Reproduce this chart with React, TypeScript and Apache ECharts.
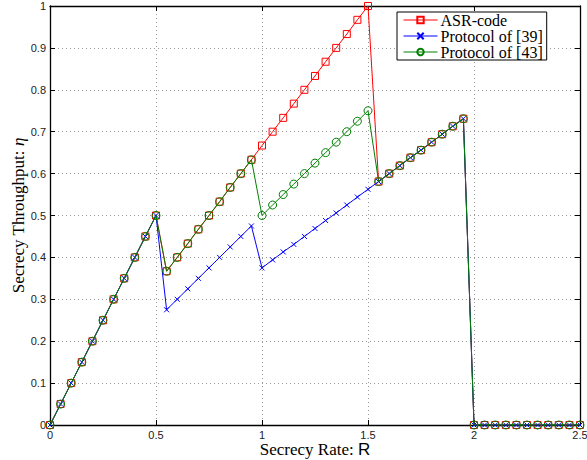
import React, { useEffect, useRef } from "react";
import * as echarts from "echarts";

const rates = [
  0, 0.05, 0.1, 0.15, 0.2, 0.25, 0.3, 0.35, 0.4, 0.45, 0.5,
  0.55, 0.6, 0.65, 0.7, 0.75, 0.8, 0.85, 0.9, 0.95, 1.0,
  1.05, 1.1, 1.15, 1.2, 1.25, 1.3, 1.35, 1.4, 1.45, 1.5,
  1.55, 1.6, 1.65, 1.7, 1.75, 1.8, 1.85, 1.9, 1.95, 2.0,
  2.05, 2.1, 2.15, 2.2, 2.25, 2.3, 2.35, 2.4, 2.45, 2.5,
];

const asrCode = [
  0, 0.05, 0.1, 0.15, 0.2, 0.25, 0.3, 0.35, 0.4, 0.45, 0.5,
  0.367, 0.4, 0.433, 0.467, 0.5, 0.533, 0.567, 0.6, 0.633, 0.667,
  0.7, 0.733, 0.767, 0.8, 0.833, 0.867, 0.9, 0.933, 0.967, 1.0,
  0.581, 0.6, 0.619, 0.638, 0.656, 0.675, 0.694, 0.713, 0.731, 0,
  0, 0, 0, 0, 0, 0, 0, 0, 0, 0,
];

const protocol39 = [
  0, 0.05, 0.1, 0.15, 0.2, 0.25, 0.3, 0.35, 0.4, 0.45, 0.5,
  0.275, 0.3, 0.325, 0.35, 0.375, 0.4, 0.425, 0.45, 0.475, 0.375,
  0.394, 0.413, 0.431, 0.45, 0.469, 0.488, 0.506, 0.525, 0.544, 0.5625,
  0.581, 0.6, 0.619, 0.638, 0.656, 0.675, 0.694, 0.713, 0.731, 0,
  0, 0, 0, 0, 0, 0, 0, 0, 0, 0,
];

const protocol43 = [
  0, 0.05, 0.1, 0.15, 0.2, 0.25, 0.3, 0.35, 0.4, 0.45, 0.5,
  0.367, 0.4, 0.433, 0.467, 0.5, 0.533, 0.567, 0.6, 0.633, 0.5,
  0.525, 0.55, 0.575, 0.6, 0.625, 0.65, 0.675, 0.7, 0.725, 0.75,
  0.581, 0.6, 0.619, 0.638, 0.656, 0.675, 0.694, 0.713, 0.731, 0,
  0, 0, 0, 0, 0, 0, 0, 0, 0, 0,
];

const xTicks = [0, 0.5, 1, 1.5, 2, 2.5];
const yTicks = [0, 0.1, 0.2, 0.3, 0.4, 0.5, 0.6, 0.7, 0.8, 0.9, 1];

const seriesNames = ["ASR-code", "Protocol of [39]", "Protocol of [43]"];
const seriesColors = ["#ff0000", "#0000ff", "#008000"];

const pairs = (ys: number[]) => rates.map((x, i) => [x, ys[i]]);

const fmt = (v: number) => String(Math.round(v * 10) / 10);

export default function App() {
  const ref = useRef<HTMLDivElement>(null);
  useEffect(() => {
    if (!ref.current) return;
    const chart = echarts.init(ref.current, undefined, { renderer: "svg" });
    const serif = "'Liberation Serif', 'Times New Roman', serif";
    const sans = "'Liberation Sans', Arial, Helvetica, sans-serif";
    const axisLine = { show: true, onZero: false, lineStyle: { color: "#000", width: 1.3 } };
    const axisTick = { show: true, inside: true, length: 5, lineStyle: { color: "#000", width: 1 } };
    const splitLine = { show: true, lineStyle: { color: "#9a9a9a", width: 1, type: [1, 3] as any } };
    const mkSeries = (idx: number, data: number[], symbol: string, size: number) => ({
      name: seriesNames[idx],
      type: "line",
      data: pairs(data),
      symbol,
      symbolSize: size,
      showAllSymbol: true,
      lineStyle: { color: seriesColors[idx], width: 1 },
      itemStyle: { color: "transparent", borderColor: seriesColors[idx], borderWidth: 1 },
      emphasis: { disabled: true },
      z: 2 + idx,
    });
    chart.setOption({
      animation: false,
      backgroundColor: "#fff",
      grid: { left: 50, right: 7, top: 6, bottom: 35, containLabel: false, outerBoundsMode: "none" },
      legend: {
        show: true,
        orient: "vertical",
        left: 397,
        top: 12,
        backgroundColor: "#fff",
        borderColor: "#000",
        borderWidth: 1,
        borderRadius: 0,
        padding: [0, 4, 0, 6],
        itemGap: 0,
        itemWidth: 34,
        itemHeight: 8,
        lineStyle: { width: 1 },
        textStyle: { fontFamily: serif, fontSize: 16, lineHeight: 16, color: "#000", padding: [0, 0, 0, -2] },
        data: seriesNames,
      },
      xAxis: [
        {
          type: "value",
          min: 0,
          max: 2.5,
          interval: 0.5,
          position: "bottom",
          axisLine,
          axisTick,
          splitLine,
          axisLabel: {
            show: true,
            margin: 4,
            fontFamily: sans,
            fontSize: 11,
            color: "#222",
            formatter: (v: number) => (xTicks.includes(v) ? fmt(v) : ""),
          },
          name: "Secrecy Rate: {r|R}",
          nameLocation: "middle",
          nameGap: 16,
          nameMoveOverlap: false,
          nameTextStyle: {
            fontFamily: serif,
            fontSize: 17,
            color: "#000",
            rich: { r: { fontFamily: sans, fontSize: 17, color: "#000" } },
          },
        },
        {
          type: "value",
          min: 0,
          max: 2.5,
          interval: 0.5,
          position: "top",
          axisLine,
          axisTick,
          splitLine: { show: false },
          axisLabel: { show: false },
        },
      ],
      yAxis: [
        {
          type: "value",
          min: 0,
          max: 1,
          interval: 0.1,
          position: "left",
          axisLine,
          axisTick,
          splitLine,
          axisLabel: {
            show: true,
            margin: 4,
            fontFamily: sans,
            fontSize: 11,
            color: "#222",
            formatter: (v: number) => {
              const t = yTicks.find((y) => Math.abs(y - v) < 1e-9);
              return t === undefined ? "" : fmt(t);
            },
          },
          name: "Secrecy Throughput: {i|η}",
          nameLocation: "middle",
          nameGap: 23,
          nameMoveOverlap: false,
          nameTextStyle: {
            fontFamily: serif,
            fontSize: 17,
            color: "#000",
            rich: { i: { fontFamily: serif, fontStyle: "italic", fontSize: 17, color: "#000" } },
          },
        },
        {
          type: "value",
          min: 0,
          max: 1,
          interval: 0.1,
          position: "right",
          axisLine,
          axisTick,
          splitLine: { show: false },
          axisLabel: { show: false },
        },
      ],
      series: [
        mkSeries(0, asrCode, "rect", 7),
        mkSeries(1, protocol39, "path://M0,0L10,10M10,0L0,10", 5),
        mkSeries(2, protocol43, "circle", 8),
      ],
    });
    return () => chart.dispose();
  }, []);
  return (
    <div
      ref={ref}
      style={{ position: "fixed", left: 0, top: 0, width: 587, height: 460 }}
    />
  );
}
